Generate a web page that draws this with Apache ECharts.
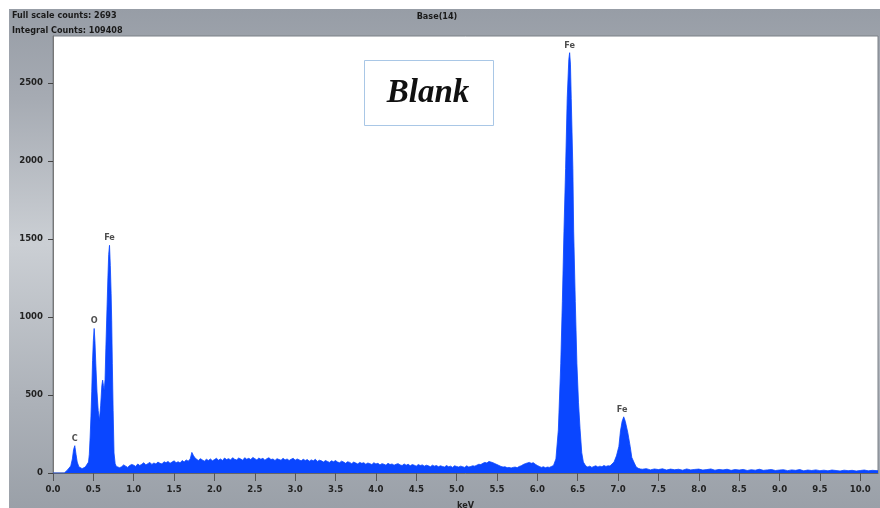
<!DOCTYPE html>
<html><head><meta charset="utf-8">
<script src="https://cdn.jsdelivr.net/npm/echarts@6/dist/echarts.min.js"></script>
<style>
html,body{margin:0;padding:0;background:#fff;}
#bg{position:absolute;left:9px;top:9px;width:871px;height:499px;background:linear-gradient(to bottom,#979da6 0%,#a6abb3 18%,#cbcfd4 47%,#adb2b9 78%,#9aa0a8 100%);}
#chart{position:absolute;left:0;top:0;width:880px;height:508px;}
</style></head><body>
<div id="bg"></div><div id="chart"></div>
<script>
// Spectrum: energy (keV) and counts
const energies = [
  0.00,0.10,0.14,0.16,0.18,0.20,0.22,0.24,0.255,0.27,0.285,0.30,0.32,0.34,0.36,0.38,0.40,0.42,0.44,0.45,
  0.46,0.47,0.48,0.49,0.50,0.51,0.52,0.53,0.545,0.56,0.575,0.59,0.605,0.615,0.625,0.635,0.645,0.655,0.665,0.68,
  0.69,0.70,0.71,0.72,0.727,0.735,0.745,0.756,0.77,0.785,
  0.80,0.825,0.85,0.875,0.90,0.925,0.95,0.975,1.00,1.025,1.05,1.075,1.10,1.125,1.15,1.175,1.20,1.225,1.25,1.275,
  1.30,1.325,1.35,1.375,1.40,1.425,1.45,1.475,1.50,1.525,1.55,1.575,1.60,1.625,1.65,1.675,1.70,1.72,1.74,1.76,
  1.78,1.80,1.825,1.85,1.875,1.90,1.925,1.95,1.975,2.00,2.025,2.05,2.075,2.10,2.125,2.15,2.175,2.20,2.225,2.25,
  2.275,2.30,2.325,2.35,2.375,2.40,2.425,2.45,2.475,2.50,2.525,2.55,2.575,2.60,2.625,2.65,2.675,2.70,2.725,2.75,
  2.775,2.80,2.825,2.85,2.875,2.90,2.925,2.95,2.975,3.00,3.025,3.05,3.075,3.10,3.125,3.15,3.175,3.20,3.225,3.25,
  3.275,3.30,3.325,3.35,3.375,3.40,3.425,3.45,3.475,3.50,3.525,3.55,3.575,3.60,3.625,3.65,3.675,3.70,3.725,3.75,
  3.775,3.80,3.825,3.85,3.875,3.90,3.925,3.95,3.975,4.00,4.025,4.05,4.075,4.10,4.125,4.15,4.175,4.20,4.225,4.25,
  4.275,4.30,4.325,4.35,4.375,4.40,4.425,4.45,4.475,4.50,4.525,4.55,4.575,4.60,4.625,4.65,4.675,4.70,4.725,4.75,
  4.775,4.80,4.825,4.85,4.875,4.90,4.925,4.95,4.975,5.00,5.025,5.05,5.075,5.10,5.125,5.15,5.175,5.20,5.225,5.25,
  5.275,5.30,5.325,5.35,5.375,5.40,5.425,5.45,5.475,5.50,5.525,5.55,5.575,5.60,5.625,5.65,5.675,5.70,5.725,5.75,
  5.775,5.80,5.825,5.85,5.875,5.90,5.925,5.95,5.975,6.00,6.025,6.05,6.075,6.10,6.125,6.15,6.175,
  6.20,6.23,6.26,6.29,6.31,6.33,6.35,6.37,6.39,6.40,6.41,6.42,6.44,6.45,6.47,6.49,6.51,6.53,6.55,6.57,6.60,
  6.625,6.65,6.675,6.70,6.725,6.75,6.775,6.80,6.825,6.85,6.875,6.90,6.92,6.95,6.98,7.01,7.03,7.05,7.07,7.09,
  7.12,7.15,7.17,7.20,7.225,7.25,7.275,
  7.30,7.35,7.40,7.45,7.50,7.55,7.60,7.65,7.70,7.75,7.80,7.85,7.90,7.95,8.00,8.05,8.10,8.15,8.20,8.25,
  8.30,8.35,8.40,8.45,8.50,8.55,8.60,8.65,8.70,8.75,8.80,8.85,8.90,8.95,9.00,9.05,9.10,9.15,9.20,9.25,
  9.30,9.35,9.40,9.45,9.50,9.55,9.60,9.65,9.70,9.75,9.80,9.85,9.90,9.95,10.00,10.05,10.10,10.15,10.22
];
const counts = [
  0,0,0,10,20,28,45,90,150,175,120,70,40,32,28,35,38,45,70,120,
  230,360,520,720,850,926,840,700,520,400,339,430,560,595,560,530,600,800,980,1250,
  1400,1459,1330,1150,979,700,400,128,60,42,
  45,34,40,52,44,36,48,55,50,42,58,48,56,66,52,60,68,55,64,58,
  70,62,58,72,66,74,62,70,78,66,72,64,80,70,84,76,90,132,112,96,
  88,80,92,84,76,88,80,90,78,86,94,82,90,80,96,86,92,84,98,88,
  84,96,90,82,98,88,94,86,100,92,84,96,88,94,82,92,98,86,90,80,
  92,86,82,94,84,90,80,88,94,82,90,84,78,88,80,86,76,84,78,88,
  74,82,78,70,80,74,68,78,72,80,70,66,76,70,62,72,68,60,70,64,
  58,68,62,66,56,64,60,54,66,58,62,52,60,56,50,62,54,58,50,56,
  60,52,48,58,50,56,46,54,50,44,54,48,52,44,50,46,40,50,44,48,
  40,46,42,38,48,40,44,36,46,42,38,44,40,36,46,38,42,46,44,50,
  56,54,62,68,64,74,70,66,60,54,48,42,38,40,34,36,32,36,38,34,
  42,46,54,60,64,68,62,66,56,48,42,36,40,34,38,36,42,
  48,90,275,700,1100,1550,1950,2400,2650,2693,2620,2400,1950,1550,1100,700,450,275,130,70,45,
  38,44,36,42,46,38,44,40,48,42,46,45,55,70,110,170,270,330,360,330,
  260,170,100,65,38,30,26,
  24,28,20,26,22,27,19,25,21,24,18,26,20,23,25,19,22,26,18,23,
  20,24,17,22,19,23,16,21,18,24,17,20,22,16,19,21,15,20,17,22,
  14,19,16,20,15,18,14,19,16,13,18,15,17,13,16,19,14,17,15
];
const xTicks = [0,0.5,1,1.5,2,2.5,3,3.5,4,4.5,5,5.5,6,6.5,7,7.5,8,8.5,9,9.5,10];
const yTicks = [0,500,1000,1500,2000,2500];
const peakNames = ['C','O','Fe','Fe','Fe'];
const peakEnergies = [0.27,0.51,0.70,6.40,7.05];
const peakCounts = [175,926,1459,2693,360];

const FONT = "'Liberation Sans Narrow','DejaVu Sans Condensed',sans-serif";
const chart = echarts.init(document.getElementById('chart'), null, {renderer:'canvas'});
const spectrum = energies.map((e,i)=>[e,counts[i]]);
const peaks = peakEnergies.map((e,i)=>[e,peakCounts[i],peakNames[i]]);

chart.setOption({
  backgroundColor:'transparent',
  animation:false,
  grid:{left:53,right:2,top:36,bottom:35,show:true,backgroundColor:'#ffffff',borderColor:'#7b8087',borderWidth:1,
        outerBoundsMode:'none',containLabel:false},
  xAxis:{
    type:'value',min:0,max:10.22,interval:0.5,
    name:'keV',nameLocation:'middle',nameGap:28,
    nameTextStyle:{fontFamily:FONT,fontWeight:'bold',fontSize:9,color:'#222'},
    axisLine:{show:true,lineStyle:{color:'#666',width:1}},
    axisTick:{show:true,length:8,customValues:xTicks,lineStyle:{color:'#555'}},
    axisLabel:{customValues:xTicks,margin:12,fontFamily:FONT,fontWeight:'bold',fontSize:9.5,color:'#222',
      formatter:v=>v.toFixed(1)},
    splitLine:{show:false}
  },
  yAxis:{
    type:'value',min:0,max:2800,interval:500,
    axisLine:{show:true,lineStyle:{color:'#777',width:1}},
    axisTick:{show:true,length:5,customValues:yTicks,lineStyle:{color:'#444'}},
    axisLabel:{customValues:yTicks,margin:10,fontFamily:FONT,fontWeight:'bold',fontSize:9.5,color:'#222',
      formatter:v=>String(v)},
    splitLine:{show:false}
  },
  series:[
    {type:'line',data:spectrum,showSymbol:false,symbol:'none',
     lineStyle:{color:'#0a46ff',width:0.8},areaStyle:{color:'#0a46ff',opacity:1},z:2},
    {type:'scatter',data:peaks,symbolSize:1,itemStyle:{color:'rgba(0,0,0,0)'},z:3,
     label:{show:true,position:'top',distance:2.5,formatter:p=>p.data[2],
       fontFamily:FONT,fontWeight:'bold',fontSize:9,color:'#222'}}
  ],
  graphic:[
    {type:'text',left:12,top:11,style:{text:'Full scale counts: 2693',font:"bold 9px "+FONT,fill:'#1a1a1a'}},
    {type:'text',left:12,top:26,style:{text:'Integral Counts: 109408',font:"bold 9px "+FONT,fill:'#1a1a1a'}},
    {type:'text',x:437,y:17,style:{text:'Base(14)',font:"bold 9px "+FONT,fill:'#1a1a1a',align:'center',verticalAlign:'middle'}},
    {type:'rect',shape:{x:364.5,y:60.5,width:129,height:65},style:{fill:'#fff',stroke:'#a9c7e6',lineWidth:1},z:10},
    {type:'text',x:428,y:93,style:{text:'Blank',font:"italic bold 33px 'Liberation Serif','Times New Roman',serif",fill:'#111',align:'center',verticalAlign:'middle'},z:11}
  ]
});
</script>
</body></html>
